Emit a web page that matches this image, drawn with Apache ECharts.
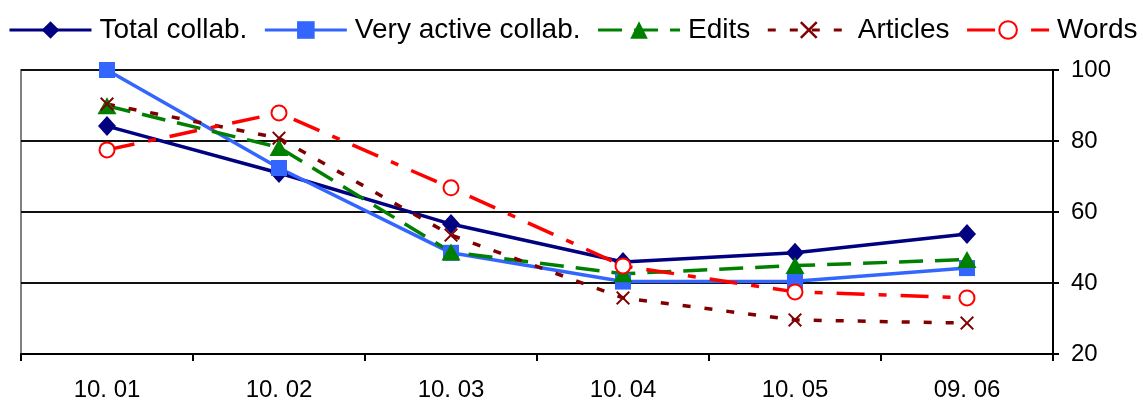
<!DOCTYPE html>
<html>
<head>
<meta charset="utf-8">
<script src="https://cdn.jsdelivr.net/npm/echarts@6/dist/echarts.min.js"></script>
<style>
html,body{margin:0;padding:0;background:#fff;}
#chart{width:1143px;height:403px;}
</style>
</head>
<body>
<div id="chart"></div>
<script>
const categories = ['10. 01', '10. 02', '10. 03', '10. 04', '10. 05', '09. 06'];
const totalCollab = [84.2, 71.0, 56.6, 45.9, 48.5, 53.8];
const veryActiveCollab = [100.0, 72.4, 48.5, 40.4, 40.5, 44.2];
const edits = [89.9, 78.2, 48.7, 42.6, 44.9, 46.6];
const articles = [90.4, 80.8, 53.5, 35.8, 29.6, 28.7];
const words = [77.5, 87.9, 66.8, 44.8, 37.5, 35.8];
const yTicks = { min: 20, max: 100, interval: 20 };

const FONT = 'Liberation Sans, Arial, sans-serif';
const xPath = 'path://M0,1L1,0L5,4L9,0L10,1L6,5L10,9L9,10L5,6L1,10L0,9L4,5Z';

const chart = echarts.init(document.getElementById('chart'));
chart.setOption({
  animation: false,
  backgroundColor: '#fff',
  legend: {
    left: 3,
    top: 11,
    width: 1138,
    padding: [5, 0, 5, 5],
    itemWidth: 82,
    itemHeight: 22,
    itemGap: 16,
    lineStyle: { width: 3 },
    textStyle: { fontFamily: FONT, fontSize: 28, color: '#000', padding: [0, 0, 0, 3] },
    data: ['Total collab.', 'Very active collab.', 'Edits', 'Articles', 'Words']
  },
  grid: {
    left: 21, right: 90, top: 70, bottom: 49,
    show: true, borderColor: '#808080', borderWidth: 2, backgroundColor: 'transparent',
    containLabel: false
  },
  xAxis: {
    type: 'category',
    data: categories,
    boundaryGap: true,
    axisLine: { lineStyle: { color: '#000', width: 2 } },
    axisTick: { show: true, length: 7, lineStyle: { color: '#000', width: 2 } },
    axisLabel: { fontFamily: FONT, fontSize: 24, color: '#000', margin: 24 },
    splitLine: { show: false }
  },
  yAxis: {
    type: 'value',
    position: 'right',
    min: yTicks.min, max: yTicks.max, interval: yTicks.interval,
    axisLine: { show: true, lineStyle: { color: '#000', width: 2 } },
    axisTick: { show: true, length: 6, lineStyle: { color: '#000', width: 2 } },
    axisLabel: { fontFamily: FONT, fontSize: 24, color: '#000', margin: 18 },
    splitLine: { show: true, lineStyle: { color: '#111', width: 2 } }
  },
  series: [
    {
      name: 'Total collab.', type: 'line', data: totalCollab, clip: false,
      symbol: 'diamond', symbolSize: [18, 20],
      lineStyle: { color: '#000080', width: 3.5, type: 'solid' },
      itemStyle: { color: '#000080', borderWidth: 0 }
    },
    {
      name: 'Very active collab.', type: 'line', data: veryActiveCollab, clip: false,
      symbol: 'rect', symbolSize: 16,
      lineStyle: { color: '#3366FF', width: 3.5, type: 'solid' },
      itemStyle: { color: '#3366FF', borderWidth: 0 }
    },
    {
      name: 'Edits', type: 'line', data: edits, clip: false,
      symbol: 'triangle', symbolSize: [19, 17],
      lineStyle: { color: '#008000', width: 3.5, type: [24, 12] },
      itemStyle: { color: '#008000', borderWidth: 0 }
    },
    {
      name: 'Articles', type: 'line', data: articles, clip: false,
      symbol: xPath, symbolSize: 14,
      lineStyle: { color: '#800000', width: 3.5, type: [8, 14] },
      itemStyle: { color: '#800000', borderWidth: 0 }
    },
    {
      name: 'Words', type: 'line', data: words, clip: false,
      symbol: 'emptyCircle', symbolSize: 15,
      lineStyle: { color: '#FF0000', width: 3.5, type: [28, 14, 8, 14] },
      itemStyle: { color: '#FF0000', borderColor: '#FF0000', borderWidth: 2 }
    }
  ]
});
</script>
</body>
</html>
